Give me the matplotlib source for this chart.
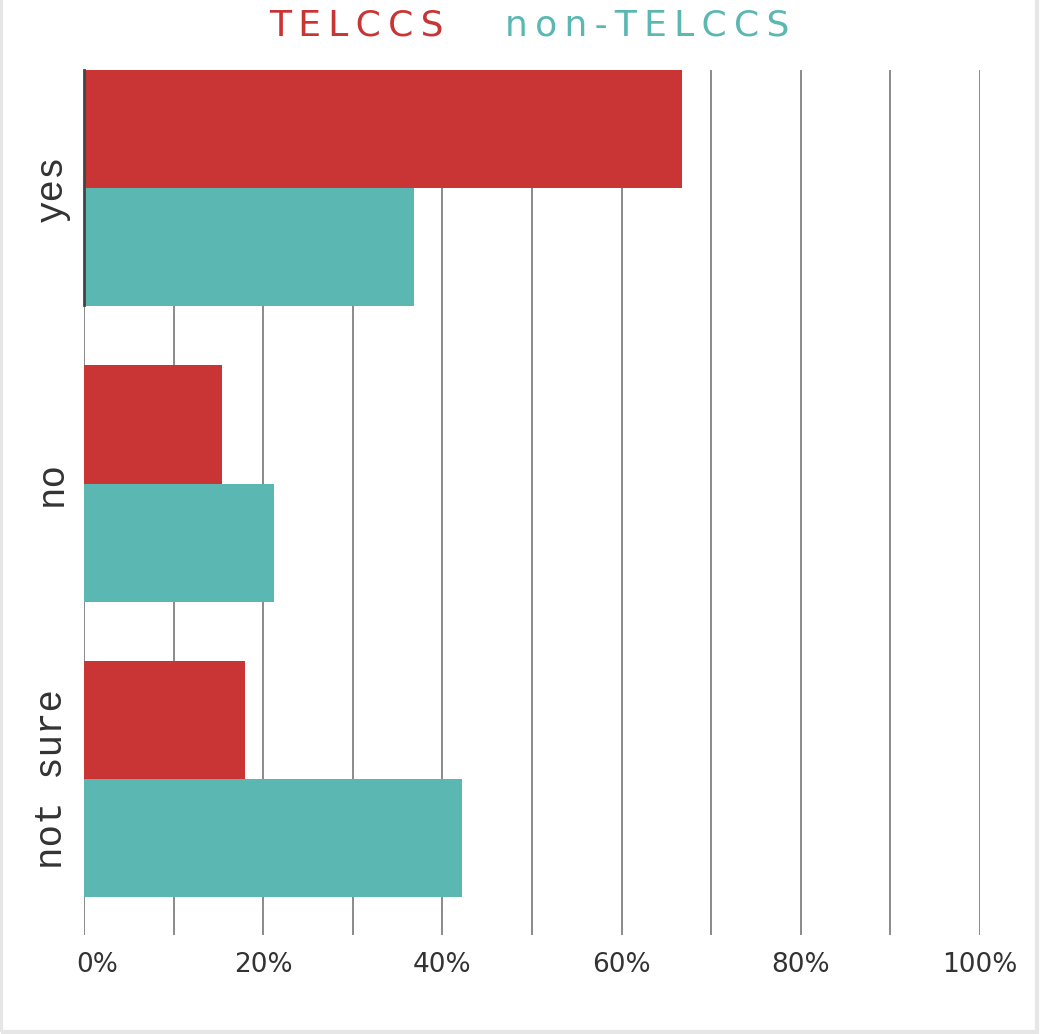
import matplotlib
matplotlib.use("Agg")
import matplotlib.pyplot as plt
import matplotlib.transforms as mtransforms
import numpy as np
from matplotlib.patches import Rectangle

categories = ["yes", "no", "not sure"]
telccs = [66.7, 15.4, 18.0]
non_telccs = [36.8, 21.2, 42.2]
x_ticks = [0, 10, 20, 30, 40, 50, 60, 70, 80, 90, 100]
x_labels = ["0%", "", "20%", "", "40%", "", "60%", "", "80%", "", "100%"]
legend_names = ["TELCCS", "non-TELCCS"]

red = "#c93534"
teal = "#5ab7b2"

fig = plt.figure(figsize=(10.4, 10.34), dpi=100)
W, H = 1040, 1034
ax = fig.add_axes([84 / W, 1 - 935 / H, (980 - 84) / W, (935 - 70) / H])

y = np.arange(len(categories))
h = 0.4
ax.barh(y - h / 2, telccs, height=h, color=red, zorder=2)
ax.barh(y + h / 2, non_telccs, height=h, color=teal, zorder=2)

ax.set_xlim(0, 100)
ax.set_ylim(2.528, -0.4)
ax.set_xticks(x_ticks)
ax.set_xticklabels(x_labels, fontfamily="DejaVu Sans", fontsize=19, color="#333333")
ax.tick_params(axis="x", length=0, pad=12)
# first label sits a little to the right of its tick
lbl0 = ax.get_xticklabels()[0]
lbl0.set_transform(lbl0.get_transform() + mtransforms.ScaledTranslation(13 / 100, 0, fig.dpi_scale_trans))

ax.set_yticks(y)
ax.set_yticklabels(categories, rotation=90, va="center", fontfamily="Liberation Mono",
                   fontsize=27, color="#333333")
ax.tick_params(axis="y", length=0, pad=10)
ax.grid(axis="x", color="#777777", linewidth=1.2, zorder=1)
for s in ax.spines.values():
    s.set_visible(False)

# dark axis segment beside the first group
ax.plot([0, 0], [-0.4, 0.395], color="#444444", linewidth=2, zorder=3, clip_on=False)

fam = ["DejaVu Sans"]
spaced = ["\u2009".join(n) for n in legend_names]
fig.text(356 / W, 1 - 26 / H, spaced[0], color=red, fontfamily=fam, fontsize=26,
         ha="center", va="center")
fig.text(647 / W, 1 - 26 / H, spaced[1], color=teal, fontfamily=fam, fontsize=26,
         ha="center", va="center")

fig.patches.append(Rectangle((0.001, 0.002), 0.996, 1.1, transform=fig.transFigure,
                             fill=False, edgecolor="#e6e6e6", linewidth=3))

fig.savefig("out.png", dpi=100, facecolor="white")
